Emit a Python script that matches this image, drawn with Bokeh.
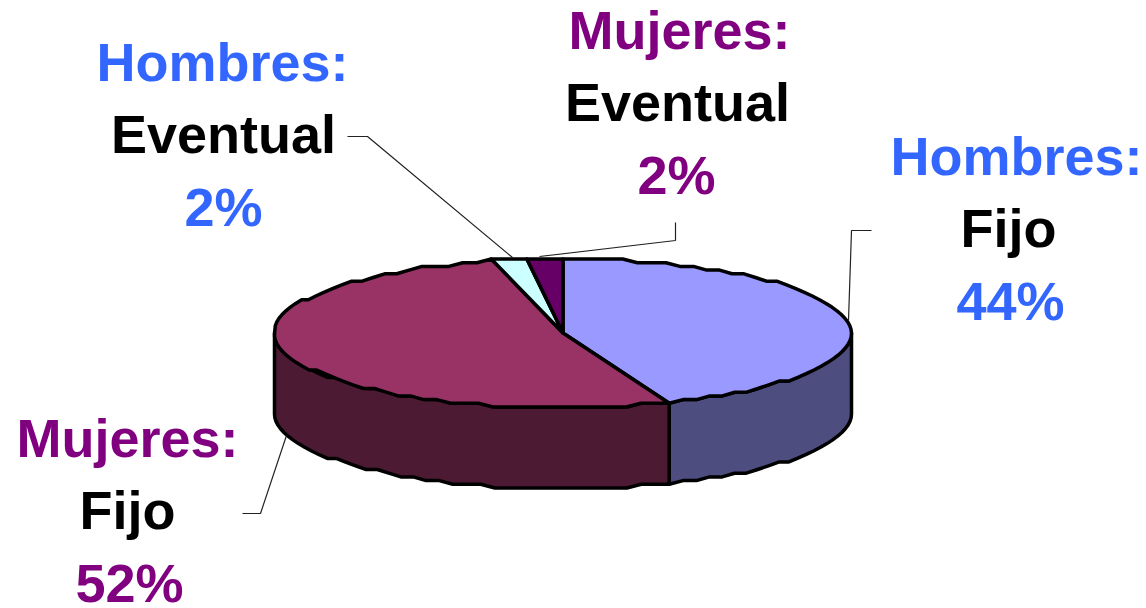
import numpy as np
from bokeh.plotting import figure
from bokeh.embed import file_html
from bokeh.resources import INLINE
from bokeh.core.properties import value

# --- data ---
categories = ["Hombres: Fijo", "Mujeres: Fijo", "Hombres: Eventual", "Mujeres: Eventual"]
group_labels = ["Hombres:", "Mujeres:", "Hombres:", "Mujeres:"]
type_labels = ["Fijo", "Fijo", "Eventual", "Eventual"]
percent_values = [44, 52, 2, 2]

# --- styles ---
top_colors = ["#9999FF", "#993366", "#CCFFFF", "#660066"]
wall_colors = ["#4D4D80", "#4D1A33", "#668080", "#330033"]
label_colors = {"Hombres:": "#3366FF", "Mujeres:": "#800080"}

# --- layout, in page pixels ---
W, H = 1146, 608
CX, CY, RX, RY, DEPTH = 562.5, 332.5, 288.5, 74.5, 81
FONT = 54
SNAP = 3.7
BASELINE_SHIFT = -21
# centre x and baseline y of the three text lines of each label
label_layout = [
    [(1016, 176), (1008, 248), (1010, 321)],
    [(127, 458), (127, 530), (129, 603)],
    [(222, 82), (223, 154), (223, 227)],
    [(679, 50), (677, 122), (676, 195)],
]
leader_lines = [
    ([871, 851, 848], [230, 230, 320]),
    ([242, 260, 286], [513, 513, 435]),
    ([347, 367, 512], [136, 136, 257]),
    ([675, 675, 539], [222, 240, 256]),
]

p = figure(width=W, height=H, x_range=(0, W), y_range=(H, 0),
           output_backend="svg", toolbar_location=None, min_border=0,
           outline_line_color=None, background_fill_color="white", border_fill_color="white")
p.axis.visible = False
p.grid.visible = False


def rim(a0, a1, dy=0.0):
    """Ellipse points for angles in degrees, clockwise from 12 o'clock,
    with the vertical position stepped like the low-resolution original."""
    n = max(2, int(abs(a1 - a0) / 3) + 2)
    t = np.radians(np.linspace(a0, a1, n))
    y = CY - RY * np.cos(t)
    y = CY + np.round((y - CY) / SNAP) * SNAP
    return CX + RX * np.sin(t), y + dy


edges = np.concatenate([[0], np.cumsum(percent_values)]) * 360.0 / sum(percent_values)

# walls: only the front half of the rim (90..270 degrees) is seen
for i in range(len(percent_values)):
    a0, a1 = max(edges[i], 90), min(edges[i + 1], 270)
    if a1 <= a0:
        continue
    xt, yt = rim(a0, a1)
    xb, yb = rim(a1, a0, DEPTH)
    p.patch(np.r_[xt, xb], np.r_[yt, yb], fill_color=wall_colors[i], line_color="black",
            line_width=3.5, line_join="round")

# top faces
for i in range(len(percent_values)):
    xt, yt = rim(edges[i], edges[i + 1])
    p.patch(np.r_[CX, xt], np.r_[CY, yt], fill_color=top_colors[i], line_color="black",
            line_width=3.5, line_join="round")

# leader lines
for xs, ys in leader_lines:
    p.line(xs, ys, line_color="#222222", line_width=1.2)

# labels
for i in range(len(percent_values)):
    strings = [group_labels[i], type_labels[i], f"{percent_values[i]}%"]
    colors = [label_colors[group_labels[i]], "#000000", label_colors[group_labels[i]]]
    for s, c, (x, y) in zip(strings, colors, label_layout[i]):
        p.text([x], [y + BASELINE_SHIFT], text=[s], text_color=c, text_align="center",
               text_baseline="alphabetic", text_font=value("Liberation Sans"),
               text_font_style="bold", text_font_size=f"{FONT}px")

open("out.html", "w").write(file_html(p, INLINE))
